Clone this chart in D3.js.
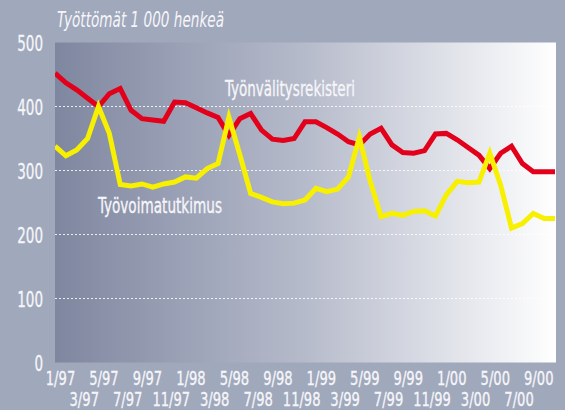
<!DOCTYPE html>
<html><head><meta charset="utf-8">
<script src="https://cdn.jsdelivr.net/npm/d3@7"></script>
<style>
html,body{margin:0;padding:0;background:#a0a8bb;}
svg{display:block;}
text{font-family:"Liberation Sans Narrow","DejaVu Sans Condensed","Arial Narrow",sans-serif;fill:#f6f6fa;}
</style></head>
<body><svg id="c" width="565" height="410"></svg>
<script>
const months = ["1/97","2/97","3/97","4/97","5/97","6/97","7/97","8/97","9/97","10/97","11/97","12/97",
"1/98","2/98","3/98","4/98","5/98","6/98","7/98","8/98","9/98","10/98","11/98","12/98",
"1/99","2/99","3/99","4/99","5/99","6/99","7/99","8/99","9/99","10/99","11/99","12/99",
"1/00","2/00","3/00","4/00","5/00","6/00","7/00","8/00","9/00","10/00","11/00"];
const registry = [452,437,426,413,400,420,428,394,381,379,377,407,
406,398,390,383,355,381,389,363,349,347,350,376,
376,367,357,345,340,357,366,340,328,327,331,357,
358,348,336,324,303,327,338,311,298,298,298];
const survey = [338,323,332,350,400,358,278,276,279,274,279,282,
290,288,303,311,383,325,264,258,251,248,249,254,
272,267,271,290,352,283,228,233,230,236,237,229,
262,283,281,282,327,277,210,217,233,225,225];
const yTicks = [0,100,200,300,400,500];
const gridTicks = [100,200,300,400];
const xRow1 = ["1/97","5/97","9/97","1/98","5/98","9/98","1/99","5/99","9/99","1/00","5/00","9/00"];
const xRow2 = ["3/97","7/97","11/97","3/98","7/98","11/98","3/99","7/99","11/99","3/00","7/00"];
const title = "Työttömät 1 000 henkeä";
const seriesNames = ["Työnvälitysrekisteri","Työvoimatutkimus"];

const svg = d3.select("#c");
const L=55, R=556, T=42.5, B=362.5;
const x = d3.scaleLinear().domain([0, months.length-1]).range([L, 555]);
const y = d3.scaleLinear().domain([0,500]).range([B, T]);
const FF = '"Liberation Sans Narrow","DejaVu Sans Condensed",sans-serif';
const labW = s => { let w=0; for (const c of s) w += (c==="/") ? 5.2 : 8.1; return w; };

const defs = svg.append("defs");
const g = defs.append("linearGradient").attr("id","bg").attr("x1","0").attr("x2","1").attr("y1","0").attr("y2","0");
g.append("stop").attr("offset","0").attr("stop-color","#7f87a0");
g.append("stop").attr("offset","0.5").attr("stop-color","#b6bbcb");
g.append("stop").attr("offset","1").attr("stop-color","#ffffff");
defs.append("clipPath").attr("id","clip").append("rect").attr("x",L).attr("y",T).attr("width",R-L).attr("height",B-T);

svg.append("rect").attr("width",565).attr("height",410).attr("fill","#a0a8bb");
svg.append("rect").attr("x",L).attr("y",T).attr("width",R-L).attr("height",B-T).attr("fill","url(#bg)");

svg.append("g").selectAll("line").data(gridTicks).join("line")
  .attr("x1",L).attr("x2",R).attr("y1",d=>y(d)).attr("y2",d=>y(d))
  .attr("stroke","#ffffff").attr("stroke-width",1).attr("stroke-dasharray","2,2").attr("opacity",0.85);

const yAxis = svg.append("g").attr("transform",`translate(${L},0)`)
  .call(d3.axisLeft(y).tickValues(yTicks).tickSize(0).tickPadding(12));
yAxis.select(".domain").remove();
yAxis.selectAll("text").attr("font-size",21).attr("fill","#f6f6fa").attr("dy","0.36em")
  .attr("stroke","#f6f6fa").attr("stroke-width",0.3)
  .attr("textLength",function(){return this.textContent.length*8.6;}).attr("lengthAdjust","spacingAndGlyphs")
  .style("font-family",FF);

const idx = m => months.indexOf(m);
function xRow(vals, yy, dx){
  const a = svg.append("g").attr("transform",`translate(0,${B})`)
    .call(d3.axisBottom(x).tickValues(vals.map(idx)).tickFormat(i=>months[i]).tickSize(0));
  a.select(".domain").remove();
  a.selectAll("text").attr("y",yy).attr("dy",0).attr("dx",dx).attr("font-size",19).attr("fill","#f6f6fa")
    .attr("stroke","#f6f6fa").attr("stroke-width",0.3)
    .attr("textLength",function(){return labW(this.textContent);}).attr("lengthAdjust","spacingAndGlyphs")
    .style("font-family",FF);
}
xRow(xRow1, 22.5, 5);
xRow(xRow2, 43.5, 7);

const line = d3.line().x((d,i)=>x(i)).y(d=>y(d));
const lg = svg.append("g").attr("clip-path","url(#clip)");
lg.append("path").datum(registry).attr("d",line).attr("fill","none")
  .attr("stroke","#e2001a").attr("stroke-width",5).attr("stroke-linejoin","miter").attr("stroke-miterlimit",4);
lg.append("path").datum(survey).attr("d",line).attr("fill","none")
  .attr("stroke","#f7f000").attr("stroke-width",5).attr("stroke-linejoin","miter").attr("stroke-miterlimit",4);

svg.append("text").attr("x",225).attr("y",96).attr("font-size",21).attr("stroke","#f6f6fa").attr("stroke-width",0.3)
  .attr("textLength",130).attr("lengthAdjust","spacingAndGlyphs").text(seriesNames[0]);
svg.append("text").attr("x",98).attr("y",213).attr("font-size",21).attr("stroke","#f6f6fa").attr("stroke-width",0.3)
  .attr("textLength",124).attr("lengthAdjust","spacingAndGlyphs").text(seriesNames[1]);
svg.append("text").attr("x",57).attr("y",27).attr("font-size",22).attr("font-style","italic")
  .attr("textLength",167).attr("lengthAdjust","spacingAndGlyphs").text(title);
</script></body></html>
